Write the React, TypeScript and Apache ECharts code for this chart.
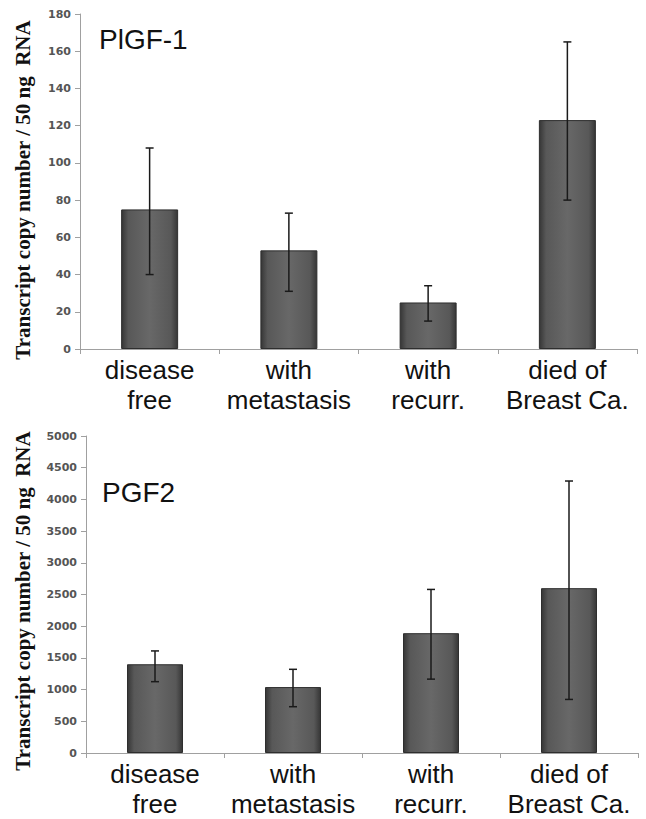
import React, { useEffect, useRef } from "react";
import * as echarts from "echarts";

const categories = ["disease\nfree", "with\nmetastasis", "with\nrecurr.", "died of\nBreast Ca."];

const plgfMeans = [75, 53, 25, 123];
const plgfLow = [40, 31, 15, 80];
const plgfHigh = [108, 73, 34, 165];

const pgf2Means = [1400, 1040, 1890, 2600];
const pgf2Low = [1125, 730, 1165, 845];
const pgf2High = [1610, 1320, 2580, 4290];

const yTitle = "Transcript copy number / 50 ng  RNA";

const barFill = new echarts.graphic.LinearGradient(0, 0, 1, 0, [
  { offset: 0, color: "#363636" },
  { offset: 0.12, color: "#585858" },
  { offset: 0.5, color: "#686868" },
  { offset: 0.88, color: "#585858" },
  { offset: 1, color: "#363636" },
]);

function errorSeries(xIdx: number, low: number[], high: number[]) {
  return {
    type: "custom",
    xAxisIndex: xIdx,
    yAxisIndex: xIdx,
    z: 10,
    data: low.map((l, i) => [i, l, high[i]]),
    encode: { x: 0, y: [1, 2] },
    renderItem: (params: any, api: any) => {
      const x = api.value(0);
      const lo = api.coord([x, api.value(1)]);
      const hi = api.coord([x, api.value(2)]);
      const w = 4;
      const st = { stroke: "#1a1a1a", lineWidth: 1.5 };
      return {
        type: "group",
        children: [
          { type: "line", shape: { x1: lo[0], y1: lo[1], x2: hi[0], y2: hi[1] }, style: st },
          { type: "line", shape: { x1: hi[0] - w, y1: hi[1], x2: hi[0] + w, y2: hi[1] }, style: st },
          { type: "line", shape: { x1: lo[0] - w, y1: lo[1], x2: lo[0] + w, y2: lo[1] }, style: st },
        ],
      };
    },
  };
}

const axisLineColor = "#a0a0a0";

function xAxis(grid: number) {
  return {
    type: "category",
    gridIndex: grid,
    data: categories,
    axisLine: { lineStyle: { color: axisLineColor, width: 1 } },
    axisTick: { show: true, length: 5, lineStyle: { color: axisLineColor } },
    axisLabel: {
      interval: 0,
      margin: 6,
      fontFamily: "Liberation Sans",
      fontSize: 26,
      lineHeight: 30,
      color: "#111",
    },
  };
}

function yAxis(grid: number, max: number, interval: number) {
  return {
    type: "value",
    gridIndex: grid,
    min: 0,
    max,
    interval,
    splitLine: { show: false },
    axisLine: { show: true, lineStyle: { color: axisLineColor, width: 1 } },
    axisTick: { show: true, length: 5, lineStyle: { color: axisLineColor } },
    axisLabel: {
      margin: 9,
      fontFamily: "DejaVu Sans",
      fontWeight: "bold",
      fontSize: 11,
      color: "#555",
      formatter: (v: number) => String(v),
    },
  };
}

export default function App() {
  const ref = useRef<HTMLDivElement>(null);
  useEffect(() => {
    if (!ref.current) return;
    const chart = echarts.init(ref.current, undefined, { renderer: "svg" });
    chart.setOption({
      animation: false,
      backgroundColor: "#ffffff",
      grid: [
        { left: 80, top: 14, width: 557, height: 335 },
        { left: 86, top: 436, width: 552, height: 319 },
      ],
      title: [
        {
          text: "PlGF-1",
          left: 99,
          top: 25,
          padding: 0,
          textStyle: { fontFamily: "Liberation Sans", fontSize: 28, fontWeight: "normal", color: "#111" },
        },
        {
          text: "PGF2",
          left: 102,
          top: 478,
          padding: 0,
          textStyle: { fontFamily: "Liberation Sans", fontSize: 28, fontWeight: "normal", color: "#111" },
        },
      ],
      graphic: [
        {
          type: "text",
          x: 23,
          y: 190,
          rotation: Math.PI / 2,
          style: {
            text: yTitle,
            font: "bold 21px 'Liberation Serif'",
            fill: "#111",
            textAlign: "center",
            textVerticalAlign: "middle",
          },
        },
        {
          type: "text",
          x: 23,
          y: 601,
          rotation: Math.PI / 2,
          style: {
            text: yTitle,
            font: "bold 21px 'Liberation Serif'",
            fill: "#111",
            textAlign: "center",
            textVerticalAlign: "middle",
          },
        },
      ],
      xAxis: [xAxis(0), xAxis(1)],
      yAxis: [yAxis(0, 180, 20), yAxis(1, 5000, 500)],
      series: [
        {
          type: "bar",
          xAxisIndex: 0,
          yAxisIndex: 0,
          data: plgfMeans,
          barWidth: 57,
          itemStyle: { color: barFill, borderColor: "#2e2e2e", borderWidth: 1 },
        },
        errorSeries(0, plgfLow, plgfHigh),
        {
          type: "bar",
          xAxisIndex: 1,
          yAxisIndex: 1,
          data: pgf2Means,
          barWidth: 56,
          itemStyle: { color: barFill, borderColor: "#2e2e2e", borderWidth: 1 },
        },
        errorSeries(1, pgf2Low, pgf2High),
      ],
    });
    return () => chart.dispose();
  }, []);
  return (
    <div
      ref={ref}
      style={{ position: "absolute", left: 0, top: 0, width: 646, height: 819 }}
    />
  );
}
